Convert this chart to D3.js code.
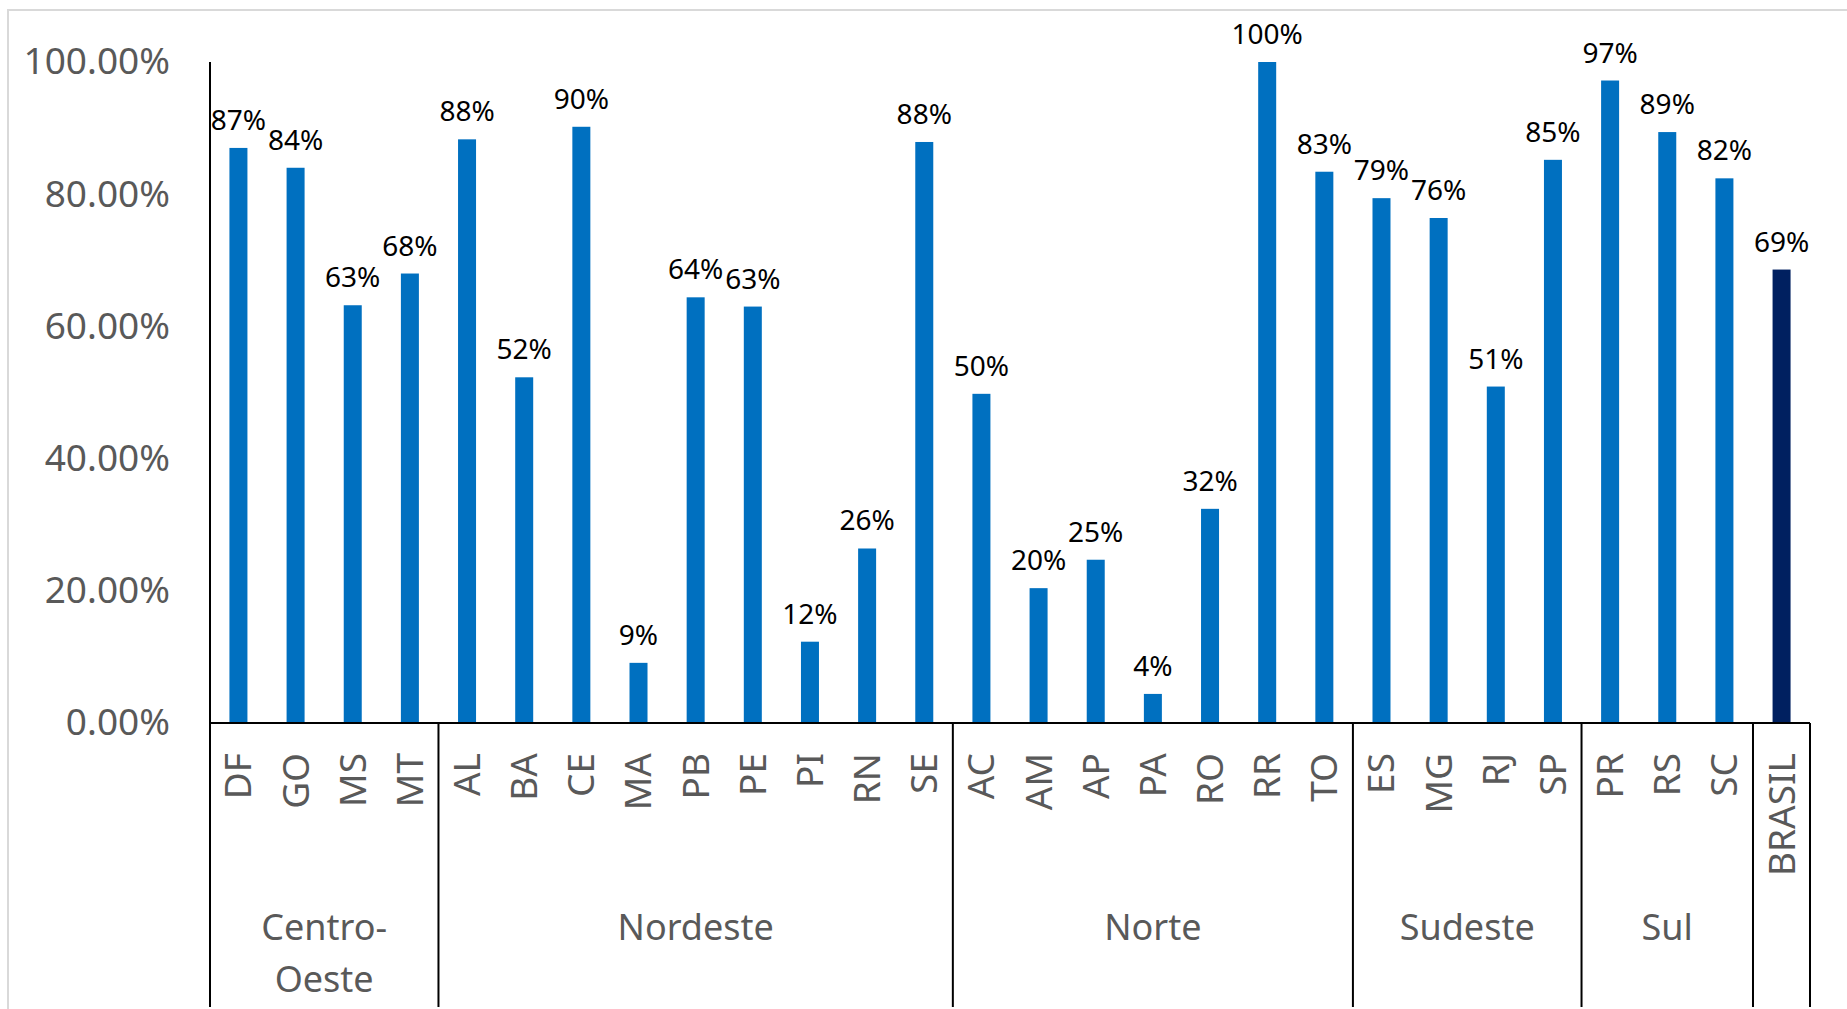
<!DOCTYPE html>
<html lang="pt">
    <head>
        <meta charset="utf-8">
        <title>Percentual por UF</title>
        <script src="https://cdn.jsdelivr.net/npm/d3@7/dist/d3.min.js"></script>
        <style>
            body { margin: 0; background: #fff; }
            text { font-family: "Noto Sans", "Open Sans", sans-serif; }
        </style>
    </head>
    <body>
        <script>

		// states in chart order, with their region
		var states = ["DF","GO","MS","MT","AL","BA","CE","MA","PB","PE","PI","RN","SE","AC","AM","AP","PA","RO","RR","TO","ES","MG","RJ","SP","PR","RS","SC","BRASIL"];
		var values = [0.870,0.840,0.632,0.680,0.883,0.523,0.902,0.091,0.644,0.630,0.123,0.264,0.879,0.498,0.204,0.247,0.044,0.324,1.000,0.834,0.794,0.764,0.509,0.852,0.972,0.894,0.824,0.686];
		var regions = ["Centro-Oeste","Nordeste","Norte","Sudeste","Sul",""];
		var regionSizes = [4,9,7,4,3,1];
		var yTicks = [0,0.2,0.4,0.6,0.8,1.0];

		var width = 1847, height = 1009;
		// note: "top" is a reserved window property, so plot edges get own names
		var plotLeft = 210, plotRight = 1810, plotTop = 62, plotBase = 723, plotBottom = 1007;

		var svg = d3.select("body").append("svg")
			.attr("width", width)
			.attr("height", height);

		// outer frame
		svg.append("rect")
			.attr("x", 8).attr("y", 10)
			.attr("width", width).attr("height", height)
			.attr("fill", "none")
			.attr("stroke", "#d9d9d9")
			.attr("stroke-width", 2);

		var x = d3.scaleBand().domain(states).range([plotLeft, plotRight]).paddingInner(0.685).paddingOuter(0.34);
		var y = d3.scaleLinear().domain([0, 1]).range([plotBase, plotTop]);

		// y axis labels (no ticks, no line from d3)
		var yAxis = svg.append("g")
			.attr("transform", "translate(" + plotLeft + ",0)")
			.call(d3.axisLeft(y).tickValues(yTicks).tickSize(0).tickPadding(40).tickFormat(d3.format(".2%")));
		yAxis.select(".domain").remove();
		yAxis.selectAll("text")
			.attr("font-size", 37)
			.attr("fill", "#595959")
			.attr("font-family", "Noto Sans");

		// bars
		svg.selectAll(".bar").data(states).enter()
			.append("rect")
			.attr("class", "bar")
			.attr("x", function(d) { return x(d); })
			.attr("width", x.bandwidth())
			.attr("y", function(d, i) { return y(values[i]); })
			.attr("height", function(d, i) { return plotBase - y(values[i]); })
			.attr("fill", function(d) { return d == "BRASIL" ? "#002060" : "#0070C0"; });

		// value labels
		svg.selectAll(".val").data(states).enter()
			.append("text")
			.attr("class", "val")
			.attr("x", function(d) { return x(d) + x.bandwidth() / 2; })
			.attr("y", function(d, i) { return y(values[i]) - 18; })
			.attr("text-anchor", "middle")
			.attr("font-size", 28)
			.attr("fill", "#000")
			.text(function(d, i) { return d3.format(".0%")(values[i]); });

		// state labels, rotated
		svg.selectAll(".st").data(states).enter()
			.append("text")
			.attr("class", "st")
			.attr("transform", function(d) { return "translate(" + (x(d) + x.bandwidth() / 2) + "," + (plotBase + 30) + ") rotate(-90)"; })
			.attr("text-anchor", "end")
			.attr("dy", "0.35em")
			.attr("font-size", 37)
			.attr("fill", "#595959")
			.text(function(d) { return d; });

		// axis lines
		svg.append("line")
			.attr("x1", plotLeft).attr("x2", plotLeft)
			.attr("y1", plotTop).attr("y2", plotBottom)
			.attr("stroke", "#000").attr("stroke-width", 2);
		svg.append("line")
			.attr("x1", plotLeft).attr("x2", plotRight)
			.attr("y1", plotBase).attr("y2", plotBase)
			.attr("stroke", "#000").attr("stroke-width", 2);

		// region separators and names
		var idx = 0;
		regions.forEach(function(r, k) {
			var first = states[idx], last = states[idx + regionSizes[k] - 1];
			var x0 = x(first) - x.step() * x.paddingInner() / 2;
			var x1 = x(last) + x.bandwidth() + x.step() * x.paddingInner() / 2;
			if (k == regions.length - 1) x1 = plotRight;
			svg.append("line")
				.attr("x1", x1).attr("x2", x1)
				.attr("y1", plotBase).attr("y2", plotBottom)
				.attr("stroke", "#000").attr("stroke-width", 2);
			var words = r == "Centro-Oeste" ? ["Centro-", "Oeste"] : [r];
			var t = svg.append("text")
				.attr("x", (x0 + x1) / 2)
				.attr("y", 940)
				.attr("text-anchor", "middle")
				.attr("font-size", 36)
				.attr("fill", "#595959");
			words.forEach(function(w, j) {
				t.append("tspan").attr("x", (x0 + x1) / 2).attr("dy", j == 0 ? 0 : 52).text(w);
			});
			idx += regionSizes[k];
		});

        </script>
    </body>
</html>
